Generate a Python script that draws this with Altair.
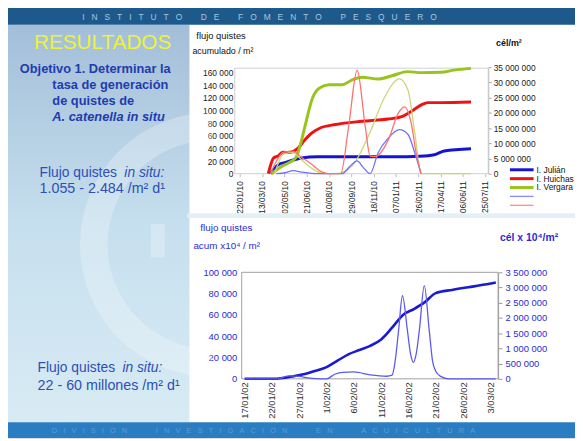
import altair as alt
import pandas as pd

W, H = 575, 433
OFF = 8


def px(v):
    return v - OFF


def py(v):
    return v - OFF


FONT = "Liberation Sans"

# ---------------- top chart: accumulated cyst flux (left axis) ----------------
julian_dates = ["2010-04-01", "2010-04-20", "2010-05-05", "2010-06-10", "2010-07-15", "2010-10-01",
                "2011-02-01", "2011-03-01", "2011-04-03", "2011-04-25", "2011-06-24"]
julian_vals = [0, 15000, 18000, 25000, 26800, 27000, 27000, 27500, 30000, 36000, 39500]

huichas_dates = ["2010-03-27", "2010-04-08", "2010-04-18", "2010-04-28", "2010-05-12", "2010-05-22",
                 "2010-06-01", "2010-06-15", "2010-06-30", "2010-07-20", "2010-08-25", "2010-10-23",
                 "2010-12-20", "2011-01-20", "2011-02-11", "2011-03-08", "2011-03-20", "2011-04-18",
                 "2011-06-24"]
huichas_vals = [0, 25000, 28000, 34000, 33500, 35500, 40000, 52000, 63000, 72000, 78000, 83000,
                86500, 90500, 99000, 110000, 112500, 112500, 113500]

vergara_dates = ["2010-04-03", "2010-04-29", "2010-05-13", "2010-05-28", "2010-06-08", "2010-06-19",
                 "2010-07-04", "2010-07-19", "2010-08-10", "2010-09-08", "2010-10-01", "2010-10-23",
                 "2010-11-28", "2010-12-29", "2011-02-02", "2011-03-05", "2011-04-18", "2011-05-17",
                 "2011-06-24"]
vergara_vals = [0, 12500, 17700, 25600, 49000, 80500, 119700, 135400, 140700, 140700, 148600, 152700,
                150000, 155000, 161600, 160000, 160500, 164000, 166700]

# ---------------- top chart: cells / m2 (right axis) ----------------
cel_julian_dates = ["2010-04-14", "2010-05-06", "2010-05-21", "2010-06-12", "2010-07-11", "2010-09-08",
                    "2010-09-27", "2010-10-12", "2010-10-26", "2010-11-10", "2010-11-28", "2010-12-21",
                    "2011-01-15", "2011-02-03", "2011-02-18", "2011-03-04"]
cel_julian_vals = [0, 400000, 1000000, 500000, 0, 0, 2600000, 4200000, 2000000, 0, 6900000, 11800000,
                   14500000, 12900000, 6900000, 0]

cel_huichas_dates = ["2010-04-01", "2010-04-14", "2010-04-29", "2010-05-21", "2010-06-08", "2010-06-27",
                     "2010-07-26", "2010-08-09", "2010-09-05", "2010-09-23", "2010-10-12", "2010-10-30",
                     "2010-11-10", "2010-11-21", "2010-12-21", "2011-01-12", "2011-01-26", "2011-02-10",
                     "2011-02-21", "2011-03-04"]
cel_huichas_vals = [0, 4000000, 7000000, 7450000, 5500000, 3700000, 500000, 0, 0, 15600000, 34000000,
                    15600000, 5800000, 5600000, 11200000, 19900000, 22000000, 16600000, 6900000, 0]

cel_vergara_dates = ["2010-04-10", "2010-05-01", "2010-05-20", "2010-06-10", "2010-07-05", "2010-07-30",
                     "2010-08-25", "2010-10-01", "2010-11-06", "2010-12-13", "2011-01-15", "2011-02-03",
                     "2011-02-18", "2011-03-04", "2011-06-24"]
cel_vergara_vals = [0, 6500000, 6900000, 4500000, 1500000, 0, 0, 2600000, 12300000, 25300000, 31200000,
                    27400000, 13400000, 0, 0]

top_tick_labels = ["22/01/10", "13/03/10", "02/05/10", "21/06/10", "10/08/10", "29/09/10",
                   "18/11/10", "07/01/11", "26/02/11", "17/04/11", "06/06/11", "25/07/11"]
top_left_ticks = [0, 20000, 40000, 60000, 80000, 100000, 120000, 140000, 160000]
top_right_ticks = [0, 5000000, 10000000, 15000000, 20000000, 25000000, 30000000, 35000000]

legend_labels = ["I. Julián", "I. Huichas", "I. Vergara", "", ""]

# ---------------- bottom chart (2002) ----------------
bottom_start = "2002-01-17"
acum_days = [0, 5, 7, 9, 11, 13, 15, 17, 19, 21, 23, 25, 27, 29, 31, 33, 35, 38, 41, 44, 46]
acum_vals = [0, 0, 800, 2500, 4500, 7500, 11000, 17000, 23000, 27000, 31000, 37000, 48000, 60000,
             65500, 72000, 80500, 83500, 86000, 88500, 90500]

cel_days = [0, 6, 8, 10, 12, 14, 15, 16.5, 18, 20, 23, 26, 27, 27.5, 28.2, 28.9, 29.8, 30.4, 30.9,
            31.4, 32, 32.9, 33.8, 34.4, 35, 35.9, 37.4, 46]
cel_vals = [0, 0, 100000, 80000, 20000, 0, 0, 150000, 215000, 225000, 130000, 85000, 120000, 500000,
            1600000, 2730000, 1600000, 800000, 540000, 800000, 1600000, 3060000, 1600000, 600000,
            250000, 80000, 0, 0]

bottom_tick_labels = ["17/01/02", "22/01/02", "27/01/02", "1/02/02", "6/02/02", "11/02/02",
                      "16/02/02", "21/02/02", "26/02/02", "3/03/02"]
bottom_left_ticks = [0, 20000, 40000, 60000, 80000, 100000]
bottom_right_ticks = [0, 500000, 1000000, 1500000, 2000000, 2500000, 3000000, 3500000]


# ---------------- helpers ----------------
def df_dates(dates, vals):
    return pd.DataFrame({"date": [d + "T00:00:00" for d in dates], "value": vals})


def df_days(days, vals):
    base = pd.Timestamp(bottom_start)
    ts = [(base + pd.to_timedelta(d, unit="D")).strftime("%Y-%m-%dT%H:%M:%S") for d in days]
    return pd.DataFrame({"date": ts, "value": vals})


def label_to_dt(lbl):
    d, m, y = lbl.split("/")
    return alt.DateTime(year=2000 + int(y), month=int(m), date=int(d))


NUMFMT = "replace(replace(format(datum.value, ',d'), ',', ' '), ',', ' ')"
ONE = [{}]


def txt(text, x, y, size, color, weight="normal", style="normal", align="left", font=FONT):
    return alt.Chart(alt.Data(values=ONE)).mark_text(
        text=text, align=align, baseline="middle", fontSize=size, color=color,
        fontWeight=weight, fontStyle=style, font=font
    ).encode(x=alt.value(px(x)), y=alt.value(py(y)))


def box(x1, y1, x2, y2, **kw):
    return alt.Chart(alt.Data(values=ONE)).mark_rect(**kw).encode(
        x=alt.value(px(x1)), x2=alt.value(px(x2)), y=alt.value(py(y1)), y2=alt.value(py(y2)))


def hrule(x1, x2, y, color, width):
    return alt.Chart(alt.Data(values=ONE)).mark_rule(color=color, strokeWidth=width).encode(
        x=alt.value(px(x1)), x2=alt.value(px(x2)), y=alt.value(py(y)))


def spaced(words, g, w):
    return ("\u00a0" * w).join(("\u00a0" * g).join(list(word)) for word in words)


# ---------------- top chart encodings ----------------
top_x = alt.X(
    "date:T",
    scale=alt.Scale(domain=[alt.DateTime(year=2010, month=1, date=11),
                            alt.DateTime(year=2011, month=8, date=1, hours=12)],
                    range=[px(238), px(495)], nice=False),
    axis=alt.Axis(orient="bottom", offset=py(173) - H, values=[label_to_dt(l) for l in top_tick_labels],
                  format="%d/%m/%y", labelAngle=270, labelFont=FONT, labelFontSize=8.5,
                  labelColor="#222222", labelPadding=4, labelOverlap=False, labelFlush=False,
                  domain=False, ticks=True, tickSize=3, tickColor="#bbbbbb", grid=False, title=None))

top_yl = alt.Y(
    "value:Q",
    scale=alt.Scale(domain=[0, 167000], range=[py(173), py(66)], nice=False, zero=False),
    axis=alt.Axis(orient="left", offset=-px(238), values=top_left_ticks, labelExpr=NUMFMT,
                  labelFont=FONT, labelFontSize=8.5, labelColor="#222222", labelPadding=2,
                  domain=False, ticks=False, grid=False, title=None, labelOverlap=False))

top_yr = alt.Y(
    "value:Q",
    scale=alt.Scale(domain=[0, 35000000], range=[py(173), py(65)], nice=False, zero=False),
    axis=alt.Axis(orient="right", offset=px(495) - W, values=top_right_ticks, labelExpr=NUMFMT,
                  labelFont=FONT, labelFontSize=8.5, labelColor="#222222", labelPadding=2,
                  domain=True, domainColor="#aaaaaa", ticks=True, tickSize=3, tickColor="#aaaaaa",
                  grid=False, title=None, labelOverlap=False))


def line(df, x, y, color, width):
    return alt.Chart(df).mark_line(color=color, strokeWidth=width, interpolate="monotone").encode(x=x, y=y)


C_BLUE, C_RED, C_GREEN = "#1414d2", "#ee1212", "#98c41c"
C_LBLUE, C_LRED, C_LGREEN = "#7070ff", "#ff7070", "#c9d874"

thin_top = alt.layer(
    line(df_dates(cel_vergara_dates, cel_vergara_vals), top_x, top_yr, C_LGREEN, 1.3),
    line(df_dates(cel_julian_dates, cel_julian_vals), top_x, top_yr, C_LBLUE, 1.3),
    line(df_dates(cel_huichas_dates, cel_huichas_vals), top_x, top_yr, C_LRED, 1.3),
)
thick_top = alt.layer(
    line(df_dates(julian_dates, julian_vals), top_x, top_yl, C_BLUE, 3),
    line(df_dates(huichas_dates, huichas_vals), top_x, top_yl, C_RED, 3),
    line(df_dates(vergara_dates, vergara_vals), top_x, top_yl, C_GREEN, 3),
)
top_chart = alt.layer(thick_top, thin_top).resolve_scale(y="independent")

# ---------------- bottom chart encodings ----------------
B_LAB = "#2b2bd6"
bot_x = alt.X(
    "date:T",
    scale=alt.Scale(domain=[alt.DateTime(year=2002, month=1, date=16, hours=11),
                            alt.DateTime(year=2002, month=3, date=4, hours=10)],
                    range=[px(245), px(505)], nice=False),
    axis=alt.Axis(orient="bottom", offset=py(381) - H, values=[label_to_dt(l) for l in bottom_tick_labels],
                  format="%-d/%m/%y", labelAngle=270, labelFont=FONT, labelFontSize=9.5,
                  labelColor="#333333", labelPadding=3, labelOverlap=False, labelFlush=False,
                  domain=False, ticks=False, grid=False, title=None))

bot_yl = alt.Y(
    "value:Q",
    scale=alt.Scale(domain=[0, 100000], range=[py(381), py(273)], nice=False, zero=False),
    axis=alt.Axis(orient="left", offset=-px(245), values=bottom_left_ticks, labelExpr=NUMFMT,
                  labelFont=FONT, labelFontSize=9.5, labelColor=B_LAB, labelPadding=5,
                  domain=False, ticks=False, grid=False, title=None, labelOverlap=False))

bot_yr = alt.Y(
    "value:Q",
    scale=alt.Scale(domain=[0, 3500000], range=[py(381), py(273)], nice=False, zero=False),
    axis=alt.Axis(orient="right", offset=px(505) - W, values=bottom_right_ticks, labelExpr=NUMFMT,
                  labelFont=FONT, labelFontSize=9.5, labelColor=B_LAB, labelPadding=3,
                  domain=True, domainColor="#999999", ticks=True, tickSize=4, tickColor="#999999",
                  grid=False, title=None, labelOverlap=False))

bottom_chart = alt.layer(
    line(df_days(acum_days, acum_vals), bot_x, bot_yl, "#1a1ad0", 2.6),
    line(df_days(cel_days, cel_vals), bot_x, bot_yr, "#5a5af2", 1.3),
).resolve_scale(y="independent")

# ---------------- slide decoration ----------------
panel_grad = alt.LinearGradient(
    gradient="linear",
    stops=[alt.GradientStop(color="#a3bed8", offset=0),
           alt.GradientStop(color="#c6dfee", offset=0.5),
           alt.GradientStop(color="#d8ebf4", offset=1)],
    x1=0, x2=0, y1=0, y2=1)

deco_arc = alt.Chart(alt.Data(values=ONE)).mark_arc(color="#ffffff", opacity=0.25).encode(
    x=alt.value(px(215)), y=alt.value(py(245)),
    theta=alt.value(3.1416), theta2=alt.value(6.2832),
    radius=alt.value(134), radius2=alt.value(106))

background = [
    box(0, 22, 192, 425, fill=panel_grad, strokeOpacity=0),
    deco_arc,
    box(153, 224, 167, 258, fill="#ffffff", opacity=0.25, strokeOpacity=0),
    box(190, 213, 583, 218, fill="#e3f0f7", strokeOpacity=0),
    box(0, 5, 583, 22, fill="#1d5a8b", strokeOpacity=0),
    box(0, 425, 583, 441, fill="#2b7dc2", strokeOpacity=0),
    box(238, 66, 495, 173, fill="#ffffff", fillOpacity=0, stroke="#cfcfcf", strokeWidth=1),
    box(245, 273, 505, 381, fill="#ffffff", fillOpacity=0, stroke="#a0a0a0", strokeWidth=1),
]

TXT_DARK = "#1e3cae"
TXT_MID = "#2e4fb4"
texts = [
    txt(spaced(["INSTITUTO", "DE", "FOMENTO", "PESQUERO"], 3, 8), 263, 14, 8.5, "#a9c6de", align="center"),
    txt(spaced(["DIVISION", "INVESTIGACION", "EN", "ACUICULTURA"], 3, 14), 267, 434, 7.5, "#5d9bd3",
        align="center"),
    txt("RESULTADOS", 104, 41, 21, "#eef23a", align="center"),
    txt("Objetivo 1. Determinar la", 20, 67, 13, TXT_DARK, weight="bold"),
    txt("tasa de generación", 53, 83, 13, TXT_DARK, weight="bold"),
    txt("de quistes de", 53, 99, 13, TXT_DARK, weight="bold"),
    txt("A. catenella in situ", 53, 116, 13, TXT_DARK, weight="bold", style="italic"),
    txt("Flujo quistes", 40, 172, 14, TXT_MID),
    txt("in situ:", 126, 172, 14, TXT_MID, style="italic"),
    txt("1.055 - 2.484 /m² d¹", 40, 189, 14.5, TXT_MID),
    txt("Flujo quistes", 38, 370, 14, TXT_MID),
    txt("in situ:", 124, 370, 14, TXT_MID, style="italic"),
    txt("22 - 60 millones /m² d¹", 38, 388, 14.5, TXT_MID),
    # top chart titles
    txt("flujo quistes", 199, 33, 9.5, "#111111"),
    txt("acumulado / m²", 195, 49, 9, "#111111"),
    txt("cél/m²", 503, 40, 9, "#111111", weight="bold"),
    # bottom chart titles
    txt("flujo quistes", 203, 228, 10, B_LAB),
    txt("acum x10⁴ / m²", 196, 246, 10, B_LAB),
    txt("cél x 10⁴/m²", 507, 238, 10.5, B_LAB, weight="bold"),
]

legend_colors = [C_BLUE, C_RED, C_GREEN, "#8a8aff", "#ff8a8a"]
legend_widths = [3, 3, 3, 1.3, 1.3]
legend_y = [169, 178, 187, 196, 205]
legend = []
for lab, col, w, yy in zip(legend_labels, legend_colors, legend_widths, legend_y):
    legend.append(hrule(517, 541, yy, col, w))
    if lab:
        legend.append(txt(lab, 544, yy, 8.5, "#111111"))

chart = alt.layer(
    *background, top_chart, bottom_chart, *texts, *legend
).resolve_scale(
    x="independent", y="independent"
).properties(
    width=W, height=H, padding=0,
    autosize=alt.AutoSizeParams(type="none")
).configure_view(strokeOpacity=0).configure(background="#ffffff")

chart.save("out.html", embed_options={"renderer": "svg", "actions": False})
